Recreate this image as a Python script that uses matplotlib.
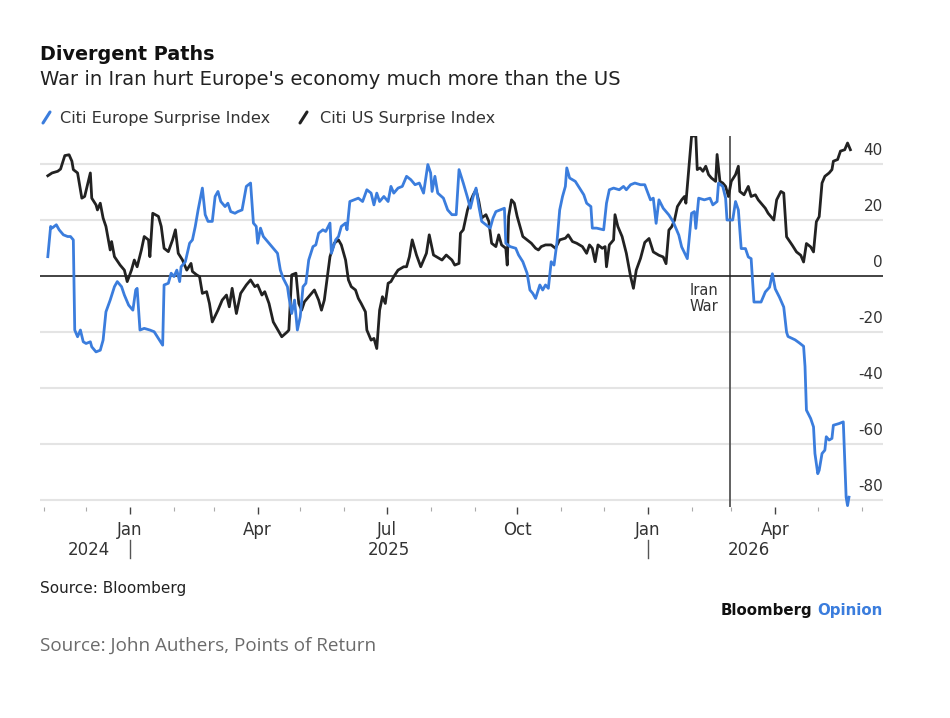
import matplotlib
matplotlib.use("Agg")
import matplotlib.pyplot as plt
import matplotlib.dates as mdates
from matplotlib.lines import Line2D
from matplotlib.transforms import blended_transform_factory
import pandas as pd

# Citi US Surprise Index
us_dates = [
    "2024-11-04", "2024-11-07", "2024-11-11", "2024-11-13", "2024-11-16", "2024-11-19", "2024-11-21", "2024-11-22",
    "2024-11-25", "2024-11-28", "2024-11-30", "2024-12-04", "2024-12-05", "2024-12-08", "2024-12-09", "2024-12-11",
    "2024-12-13", "2024-12-15", "2024-12-18", "2024-12-19", "2024-12-21", "2024-12-25", "2024-12-28", "2024-12-30",
    "2025-01-02", "2025-01-04", "2025-01-06", "2025-01-09", "2025-01-11", "2025-01-14", "2025-01-15", "2025-01-17",
    "2025-01-21", "2025-01-23", "2025-01-25", "2025-01-28", "2025-01-31", "2025-02-02", "2025-02-04", "2025-02-07",
    "2025-02-10", "2025-02-13", "2025-02-14", "2025-02-17", "2025-02-19", "2025-02-21", "2025-02-24", "2025-02-26",
    "2025-02-28", "2025-03-04", "2025-03-07", "2025-03-10", "2025-03-12", "2025-03-14", "2025-03-17", "2025-03-20",
    "2025-03-24", "2025-03-27", "2025-03-30", "2025-04-01", "2025-04-04", "2025-04-06", "2025-04-09", "2025-04-12",
    "2025-04-16", "2025-04-18", "2025-04-22", "2025-04-23", "2025-04-25", "2025-04-28", "2025-04-30", "2025-05-02",
    "2025-05-04", "2025-05-08", "2025-05-11", "2025-05-14", "2025-05-16", "2025-05-18", "2025-05-22", "2025-05-25",
    "2025-05-28", "2025-05-30", "2025-06-02", "2025-06-04", "2025-06-06", "2025-06-09", "2025-06-11", "2025-06-13",
    "2025-06-16", "2025-06-17", "2025-06-20", "2025-06-22", "2025-06-24", "2025-06-26", "2025-06-28", "2025-06-30",
    "2025-07-02", "2025-07-04", "2025-07-06", "2025-07-09", "2025-07-13", "2025-07-15", "2025-07-17", "2025-07-19",
    "2025-07-22", "2025-07-25", "2025-07-27", "2025-07-29", "2025-07-31", "2025-08-03", "2025-08-05", "2025-08-09",
    "2025-08-12", "2025-08-16", "2025-08-18", "2025-08-21", "2025-08-22", "2025-08-24", "2025-08-27", "2025-08-29",
    "2025-08-31", "2025-09-02", "2025-09-04", "2025-09-06", "2025-09-09", "2025-09-11", "2025-09-13", "2025-09-16",
    "2025-09-18", "2025-09-20", "2025-09-23", "2025-09-24", "2025-09-25", "2025-09-27", "2025-09-29", "2025-10-01",
    "2025-10-03", "2025-10-05", "2025-10-08", "2025-10-11", "2025-10-14", "2025-10-16", "2025-10-18", "2025-10-21",
    "2025-10-25", "2025-10-28", "2025-10-31", "2025-11-04", "2025-11-06", "2025-11-09", "2025-11-12", "2025-11-16",
    "2025-11-19", "2025-11-21", "2025-11-23", "2025-11-25", "2025-11-27", "2025-11-30", "2025-12-02", "2025-12-03",
    "2025-12-05", "2025-12-08", "2025-12-09", "2025-12-11", "2025-12-14", "2025-12-17", "2025-12-20", "2025-12-22",
    "2025-12-24", "2025-12-27", "2025-12-30", "2026-01-02", "2026-01-05", "2026-01-09", "2026-01-12", "2026-01-14",
    "2026-01-16", "2026-01-18", "2026-01-20", "2026-01-22", "2026-01-25", "2026-01-27", "2026-01-28", "2026-01-30",
    "2026-02-01", "2026-02-04", "2026-02-05", "2026-02-07", "2026-02-09", "2026-02-11", "2026-02-13", "2026-02-15",
    "2026-02-18", "2026-02-19", "2026-02-21", "2026-02-23", "2026-02-25", "2026-02-27", "2026-03-01", "2026-03-04",
    "2026-03-06", "2026-03-07", "2026-03-10", "2026-03-13", "2026-03-15", "2026-03-18", "2026-03-20", "2026-03-23",
    "2026-03-25", "2026-03-27", "2026-03-31", "2026-04-02", "2026-04-05", "2026-04-07", "2026-04-09", "2026-04-13",
    "2026-04-16", "2026-04-19", "2026-04-21", "2026-04-23", "2026-04-26", "2026-04-28", "2026-04-30", "2026-05-02",
    "2026-05-04", "2026-05-06", "2026-05-09", "2026-05-11", "2026-05-12", "2026-05-15", "2026-05-17", "2026-05-20",
    "2026-05-22", "2026-05-24",
]
us_values = [
    35.8, 36.8, 37.4, 38.2, 43.0, 43.3, 41.0, 38.0,
    36.8, 27.8, 28.4, 36.8, 27.8, 25.4, 23.6, 26.0,
    20.7, 17.7, 9.3, 12.3, 6.9, 3.9, 2.1, -2.0,
    2.1, 5.7, 3.3, 9.3, 14.1, 12.9, 6.9, 22.4,
    21.3, 17.7, 9.9, 8.7, 12.9, 16.5, 8.1, 5.7,
    2.1, 4.5, 1.6, 0.4, -0.2, -6.2, -5.6, -9.8,
    -16.4, -12.2, -8.6, -6.8, -11.0, -4.4, -13.4, -6.2,
    -3.2, -1.4, -3.8, -3.2, -6.8, -5.6, -9.8, -16.4,
    -19.9, -21.7, -19.9, -19.3, 0.4, 1.0, -9.8, -12.2,
    -9.2, -6.8, -5.0, -8.6, -12.2, -8.6, 6.9, 11.7,
    12.9, 11.1, 5.7, -1.4, -3.8, -5.0, -8.0, -9.8,
    -12.8, -19.3, -22.9, -22.3, -25.9, -12.2, -7.4, -9.8,
    -2.6, -2.0, -0.2, 2.1, 3.3, 3.3, 6.9, 12.9,
    7.5, 3.3, 5.7, 8.1, 14.7, 7.5, 6.9, 5.7,
    7.5, 5.7, 3.9, 4.5, 15.3, 16.5, 23.6, 26.6,
    29.0, 30.8, 26.6, 20.7, 21.9, 19.5, 11.7, 10.5,
    14.7, 11.1, 9.9, 3.9, 21.3, 27.2, 26.0, 21.3,
    17.7, 14.1, 12.9, 11.7, 9.9, 9.3, 10.5, 11.1,
    11.1, 9.9, 12.9, 13.5, 14.7, 12.3, 11.7, 10.5,
    8.1, 11.1, 9.9, 5.1, 11.1, 9.9, 10.5, 3.3,
    11.1, 12.9, 21.9, 17.7, 14.1, 8.1, -0.2, -4.4,
    2.1, 6.3, 12.0, 13.4, 8.6, 7.4, 6.8, 4.4,
    16.4, 17.6, 20.0, 24.8, 27.2, 28.4, 26.0, 38.0,
    50.0, 50.0, 38.0, 38.6, 37.4, 39.2, 36.2, 35.0,
    33.8, 43.4, 33.8, 33.2, 32.0, 28.4, 33.8, 36.2,
    39.2, 30.2, 29.0, 32.0, 28.4, 29.0, 27.2, 25.4,
    24.2, 22.4, 20.0, 27.2, 30.2, 29.6, 14.0, 11.0,
    8.6, 7.4, 5.0, 11.6, 10.4, 8.6, 19.4, 21.2,
    33.2, 35.6, 36.8, 38.0, 41.0, 41.6, 44.6, 45.1,
    47.5, 45.1,
]

# Citi Europe Surprise Index
europe_dates = [
    "2024-11-04", "2024-11-06", "2024-11-07", "2024-11-10", "2024-11-12", "2024-11-15", "2024-11-18", "2024-11-20",
    "2024-11-22", "2024-11-23", "2024-11-25", "2024-11-27", "2024-11-29", "2024-12-01", "2024-12-04", "2024-12-05",
    "2024-12-08", "2024-12-11", "2024-12-13", "2024-12-15", "2024-12-18", "2024-12-21", "2024-12-23", "2024-12-26",
    "2024-12-28", "2024-12-31", "2025-01-03", "2025-01-05", "2025-01-06", "2025-01-08", "2025-01-11", "2025-01-15",
    "2025-01-18", "2025-01-21", "2025-01-24", "2025-01-25", "2025-01-28", "2025-01-30", "2025-02-01", "2025-02-03",
    "2025-02-05", "2025-02-06", "2025-02-09", "2025-02-12", "2025-02-14", "2025-02-16", "2025-02-18", "2025-02-21",
    "2025-02-23", "2025-02-25", "2025-02-28", "2025-03-02", "2025-03-04", "2025-03-06", "2025-03-09", "2025-03-11",
    "2025-03-13", "2025-03-16", "2025-03-18", "2025-03-21", "2025-03-24", "2025-03-27", "2025-03-29", "2025-03-31",
    "2025-04-01", "2025-04-03", "2025-04-05", "2025-04-09", "2025-04-12", "2025-04-15", "2025-04-17", "2025-04-19",
    "2025-04-22", "2025-04-23", "2025-04-25", "2025-04-27", "2025-04-29", "2025-05-01", "2025-05-03", "2025-05-05",
    "2025-05-07", "2025-05-10", "2025-05-12", "2025-05-14", "2025-05-17", "2025-05-19", "2025-05-22", "2025-05-23",
    "2025-05-26", "2025-05-28", "2025-05-30", "2025-06-02", "2025-06-03", "2025-06-05", "2025-06-08", "2025-06-11",
    "2025-06-14", "2025-06-17", "2025-06-20", "2025-06-22", "2025-06-24", "2025-06-26", "2025-06-29", "2025-07-02",
    "2025-07-04", "2025-07-06", "2025-07-09", "2025-07-12", "2025-07-15", "2025-07-18", "2025-07-21", "2025-07-24",
    "2025-07-27", "2025-07-30", "2025-08-01", "2025-08-02", "2025-08-04", "2025-08-06", "2025-08-10", "2025-08-13",
    "2025-08-16", "2025-08-19", "2025-08-21", "2025-08-24", "2025-08-27", "2025-08-29", "2025-08-31", "2025-09-02",
    "2025-09-04", "2025-09-06", "2025-09-09", "2025-09-12", "2025-09-14", "2025-09-16", "2025-09-19", "2025-09-22",
    "2025-09-23", "2025-09-26", "2025-09-30", "2025-10-02", "2025-10-05", "2025-10-08", "2025-10-10", "2025-10-12",
    "2025-10-14", "2025-10-17", "2025-10-19", "2025-10-21", "2025-10-23", "2025-10-25", "2025-10-27", "2025-10-29",
    "2025-10-31", "2025-11-02", "2025-11-04", "2025-11-05", "2025-11-07", "2025-11-11", "2025-11-14", "2025-11-17",
    "2025-11-19", "2025-11-22", "2025-11-23", "2025-11-26", "2025-12-01", "2025-12-03", "2025-12-05", "2025-12-08",
    "2025-12-12", "2025-12-15", "2025-12-17", "2025-12-20", "2025-12-23", "2025-12-27", "2025-12-30", "2026-01-03",
    "2026-01-05", "2026-01-07", "2026-01-09", "2026-01-12", "2026-01-16", "2026-01-19", "2026-01-23", "2026-01-25",
    "2026-01-29", "2026-02-01", "2026-02-03", "2026-02-04", "2026-02-06", "2026-02-10", "2026-02-14", "2026-02-16",
    "2026-02-19", "2026-02-20", "2026-02-23", "2026-02-25", "2026-02-26", "2026-03-02", "2026-03-04", "2026-03-06",
    "2026-03-08", "2026-03-11", "2026-03-13", "2026-03-15", "2026-03-17", "2026-03-22", "2026-03-25", "2026-03-28",
    "2026-03-30", "2026-04-01", "2026-04-04", "2026-04-07", "2026-04-09", "2026-04-10", "2026-04-15", "2026-04-18",
    "2026-04-21", "2026-04-22", "2026-04-23", "2026-04-26", "2026-04-28", "2026-04-29", "2026-05-01", "2026-05-02",
    "2026-05-04", "2026-05-06", "2026-05-07", "2026-05-09", "2026-05-11", "2026-05-12", "2026-05-16", "2026-05-19",
    "2026-05-21", "2026-05-22", "2026-05-23",
]
europe_values = [
    6.9, 17.7, 17.1, 18.3, 16.5, 14.7, 14.1, 14.1,
    12.9, -19.3, -21.7, -19.3, -23.5, -24.1, -23.5, -25.3,
    -27.1, -26.5, -22.9, -12.8, -8.6, -3.8, -2.0, -3.8,
    -6.8, -10.4, -12.2, -5.0, -4.4, -19.3, -18.7, -19.3,
    -19.9, -22.3, -24.7, -3.2, -2.6, 1.0, -0.2, 2.1,
    -2.0, 3.3, 5.1, 11.7, 12.9, 17.7, 23.6, 31.4,
    21.9, 19.5, 19.5, 28.4, 30.2, 26.6, 24.8, 26.0,
    23.0, 22.4, 23.0, 23.6, 32.0, 33.2, 18.9, 17.7,
    11.7, 17.1, 14.1, 11.7, 9.9, 8.1, 2.1, -0.8,
    -3.8, -7.4, -13.4, -8.6, -19.3, -14.6, -3.8, -2.6,
    5.7, 10.5, 11.1, 15.3, 16.5, 15.9, 18.9, 8.1,
    12.9, 14.1, 17.7, 18.9, 16.5, 26.6, 27.2, 27.8,
    26.6, 30.8, 29.6, 25.4, 29.6, 26.6, 28.4, 26.6,
    32.0, 29.6, 31.4, 32.0, 35.6, 34.4, 32.6, 33.2,
    29.6, 39.8, 36.8, 30.2, 35.6, 29.6, 27.8, 23.6,
    21.9, 21.9, 38.0, 33.2, 28.0, 24.2, 28.4, 31.4,
    24.8, 19.5, 18.3, 17.1, 20.7, 23.0, 23.6, 24.2,
    11.7, 10.5, 9.9, 7.5, 5.1, 1.0, -5.0, -6.2,
    -8.0, -3.2, -5.0, -3.2, -4.4, 5.1, 3.9, 11.7,
    23.6, 28.4, 32.0, 38.6, 35.0, 33.8, 31.4, 29.0,
    26.0, 24.8, 17.1, 17.1, 16.5, 26.0, 30.8, 31.4,
    30.8, 32.0, 30.8, 32.6, 33.2, 32.6, 32.6, 27.2,
    27.8, 18.8, 27.2, 24.2, 21.8, 19.4, 14.6, 10.4,
    6.2, 22.4, 23.0, 17.0, 27.8, 27.2, 27.8, 25.4,
    26.6, 33.2, 32.0, 27.8, 20.0, 20.0, 26.6, 23.6,
    9.8, 9.8, 6.8, 6.2, -9.3, -9.3, -5.7, -4.0,
    0.8, -4.6, -7.6, -11.1, -20.1, -21.6, -22.8, -23.9,
    -25.1, -32.3, -47.9, -50.9, -53.9, -63.4, -70.6, -69.4,
    -63.4, -62.2, -57.4, -58.6, -58.0, -53.3, -52.7, -52.1,
    -79.0, -82.0, -79.0,
]

y_ticks = [40, 20, 0, -20, -40, -60, -80]
war_date = "2026-02-28"
year_breaks = ["2025-01-01", "2026-01-01"]
year_labels = ["2024", "2025", "2026"]

us = pd.Series(us_values, index=pd.to_datetime(us_dates))
europe = pd.Series(europe_values, index=pd.to_datetime(europe_dates))

BLUE = "#3b7ddd"
BLACK = "#222222"
TEXT = "#333333"

plt.rcParams["font.family"] = "DejaVu Sans"

W, H = 950, 718
fig = plt.figure(figsize=(W / 100, H / 100), dpi=100)
fig.patch.set_facecolor("white")


def fx(px):
    return px / W


def fy(py):
    return 1 - py / H


ax = fig.add_axes([fx(40), fy(507), fx(883) - fx(40), fy(136) - fy(507)])
ax.set_xlim(pd.Timestamp("2024-10-29 12:00"), pd.Timestamp("2026-06-16"))
ax.set_ylim(-82.5, 50)
for s in ax.spines.values():
    s.set_visible(False)
ax.set_yticks([])

for v in y_ticks:
    if v == 0:
        ax.axhline(0, color="#222222", lw=1.2, zorder=3)
    else:
        ax.axhline(v, color="#e4e4e4", lw=1.5, zorder=1)
    ax.annotate(f"{v}", xy=(1, v), xycoords=("axes fraction", "data"),
                xytext=(0, 6.5), textcoords="offset points",
                ha="right", va="baseline", fontsize=11, color=TEXT)

ax.plot(us.index, us.values, color=BLACK, lw=2.0, zorder=4,
        solid_joinstyle="round")
ax.plot(europe.index, europe.values, color=BLUE, lw=2.0, zorder=5,
        solid_joinstyle="round", clip_on=False)

# Iran war marker
war = pd.Timestamp(war_date)
ax.axvline(war, color="#555555", lw=1.3, zorder=2)
ax.annotate("Iran\nWar", xy=(war, 0), xytext=(-8, -5), textcoords="offset points",
            ha="right", va="top", fontsize=10.5, color=TEXT,
            multialignment="center", linespacing=1.05)

# x axis
ax.xaxis.set_major_locator(mdates.MonthLocator(bymonth=[1, 4, 7, 10]))
ax.xaxis.set_minor_locator(mdates.MonthLocator())
ax.xaxis.set_major_formatter(mdates.DateFormatter("%b"))
ax.tick_params(axis="x", which="major", length=5, width=1, color="#444444",
               labelsize=12, labelcolor=TEXT, pad=5)
ax.tick_params(axis="x", which="minor", length=3, width=0.8, color="#aaaaaa")

trans = blended_transform_factory(ax.transData, fig.transFigure)
for d in year_breaks:
    ax.plot([pd.Timestamp(d)] * 2, [fy(540), fy(558)], transform=trans,
            color="#555555", lw=1, clip_on=False)

starts = [us.index.min()] + [pd.Timestamp(d) for d in year_breaks]
ends = [pd.Timestamp(d) for d in year_breaks] + [us.index.max()]
for label, a, b in zip(year_labels, starts, ends):
    ax.text(a + (b - a) / 2, fy(555), label, transform=trans,
            ha="center", va="baseline", fontsize=12, color=TEXT)

# titles and legend
fig.text(fx(40), fy(60), "Divergent Paths", fontsize=13.8, fontweight="bold",
         color="#111111", va="baseline")
fig.text(fx(40), fy(85), "War in Iran hurt Europe's economy much more than the US",
         fontsize=14.1, color="#222222", va="baseline")

fig.add_artist(Line2D([fx(43), fx(50)], [fy(123), fy(112)], color=BLUE,
                      lw=2.2, solid_capstyle="round"))
fig.text(fx(60), fy(123), "Citi Europe Surprise Index", fontsize=11.6,
         color=TEXT, va="baseline")
fig.add_artist(Line2D([fx(300), fx(307)], [fy(123), fy(112)], color=BLACK,
                      lw=2.2, solid_capstyle="round"))
fig.text(fx(320), fy(123), "Citi US Surprise Index", fontsize=11.6,
         color=TEXT, va="baseline")

# footer
fig.text(fx(40), fy(593), "Source: Bloomberg", fontsize=11, color="#222222",
         va="baseline")
op = fig.text(fx(883), fy(615), "Opinion", fontsize=10.8, fontweight="bold",
              color=BLUE, ha="right", va="baseline")
fig.canvas.draw()
bb = op.get_window_extent(fig.canvas.get_renderer())
fig.text(bb.x0 / W - fx(5), fy(615), "Bloomberg", fontsize=10.8,
         fontweight="bold", color="#111111", ha="right", va="baseline")
fig.text(fx(40), fy(651), "Source: John Authers, Points of Return",
         fontsize=13.6, color="#6b6b6b", va="baseline", family="Open Sans")

fig.savefig("out.png", dpi=100, facecolor="white")
